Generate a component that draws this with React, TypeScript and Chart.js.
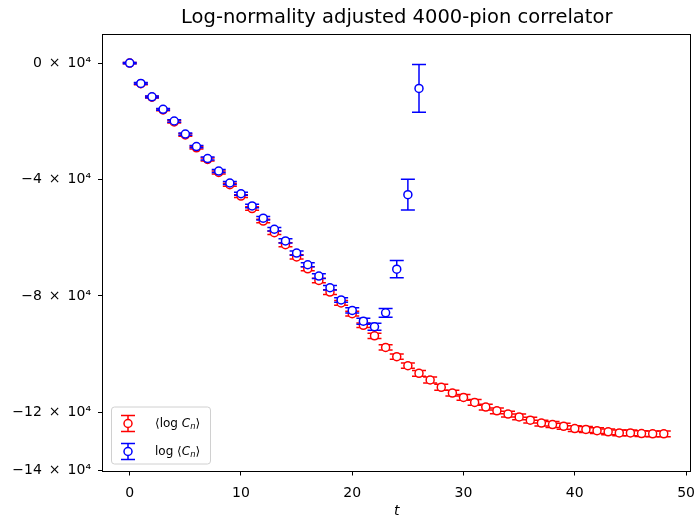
import React, { useEffect, useRef } from 'react';
import { Chart, registerables } from 'chart.js';

Chart.register(...registerables);

// ---------- data ----------
const titleText = 'Log-normality adjusted 4000-pion correlator';
const xLabel = 't';

// time slices
const tRed = Array.from({ length: 49 }, (_, i) => i);
const tBlue = Array.from({ length: 27 }, (_, i) => i);

// <log C_n>  (units of 1e4)
const redMean = [
  0, -0.71, -1.17, -1.61, -2.02, -2.47, -2.91, -3.31, -3.76, -4.18,
  -4.57, -5.0, -5.43, -5.83, -6.24, -6.66, -7.07, -7.47, -7.87, -8.24,
  -8.61, -9.01, -9.37, -9.77, -10.09, -10.4, -10.66, -10.89, -11.14, -11.34,
  -11.49, -11.66, -11.82, -11.95, -12.06, -12.16, -12.27, -12.37, -12.42, -12.48,
  -12.56, -12.59, -12.63, -12.67, -12.71, -12.71, -12.73, -12.74, -12.74,
];
const redErr = [
  0.02, 0.03, 0.03, 0.03, 0.04, 0.04, 0.04, 0.05, 0.05, 0.05,
  0.05, 0.06, 0.06, 0.06, 0.07, 0.07, 0.07, 0.08, 0.08, 0.08,
  0.08, 0.08, 0.09, 0.09, 0.09, 0.09, 0.1, 0.1, 0.1, 0.1,
  0.1, 0.1, 0.1, 0.1, 0.1, 0.1, 0.1, 0.1, 0.1, 0.1,
  0.1, 0.1, 0.1, 0.1, 0.1, 0.1, 0.1, 0.1, 0.1,
];

// log <C_n>  (units of 1e4)
const blueMean = [
  0, -0.7, -1.16, -1.59, -1.99, -2.44, -2.87, -3.28, -3.71, -4.12,
  -4.49, -4.91, -5.33, -5.71, -6.11, -6.53, -6.93, -7.32, -7.72, -8.14,
  -8.5, -8.87, -9.06, -8.58, -7.08, -4.52, -0.87,
];
const blueErr = [
  0.02, 0.03, 0.03, 0.03, 0.04, 0.04, 0.04, 0.05, 0.05, 0.05,
  0.05, 0.06, 0.06, 0.06, 0.07, 0.07, 0.07, 0.08, 0.08, 0.08,
  0.09, 0.1, 0.12, 0.15, 0.3, 0.53, 0.82,
];

const SCALE = 1e4;
const yTickValues = [-140000, -120000, -80000, -40000, 0];
const yTickLabels = ['−14\u2002×\u200210⁴', '−12\u2002×\u200210⁴', '−8\u2002×\u200210⁴', '−4\u2002×\u200210⁴', '0\u2002×\u200210⁴'];
const xTickValues = [0, 10, 20, 30, 40, 50];

const FONT = 'DejaVu Sans';

// ---------- plugins ----------
const errorBarPlugin = {
  id: 'errorBars',
  beforeDatasetDraw(chart: any, args: any) {
    const ds = chart.data.datasets[args.index];
    const errs: number[] = ds.errorValues;
    if (!errs) return;
    const { ctx, chartArea } = chart;
    const xs = chart.scales.x;
    const ys = chart.scales.y;
    ctx.save();
    ctx.beginPath();
    ctx.rect(chartArea.left, chartArea.top, chartArea.right - chartArea.left, chartArea.bottom - chartArea.top);
    ctx.clip();
    ctx.strokeStyle = ds.borderColor;
    ctx.lineWidth = 1.5;
    ds.data.forEach((p: any, i: number) => {
      const e = errs[i];
      const px = xs.getPixelForValue(p.x);
      const yt = ys.getPixelForValue(p.y + e);
      const yb = ys.getPixelForValue(p.y - e);
      ctx.beginPath();
      ctx.moveTo(px, yt);
      ctx.lineTo(px, yb);
      ctx.moveTo(px - 7, yt);
      ctx.lineTo(px + 7, yt);
      ctx.moveTo(px - 7, yb);
      ctx.lineTo(px + 7, yb);
      ctx.stroke();
    });
    ctx.restore();
  },
};

type Part = { text: string; italic?: boolean; sub?: boolean };

function drawRich(ctx: CanvasRenderingContext2D, parts: Part[], x: number, y: number, size: number) {
  let cx = x;
  parts.forEach((p) => {
    const s = p.sub ? size * 0.7 : size;
    ctx.font = `${p.italic ? 'italic ' : ''}${s}px "${FONT}"`;
    ctx.fillText(p.text, cx, p.sub ? y + size * 0.28 : y);
    cx += ctx.measureText(p.text).width;
  });
}

const legendEntries: { color: string; parts: Part[] }[] = [
  {
    color: '#ff0000',
    parts: [
      { text: '⟨log ' },
      { text: 'C', italic: true },
      { text: 'n', italic: true, sub: true },
      { text: '⟩' },
    ],
  },
  {
    color: '#0000ff',
    parts: [
      { text: 'log ⟨' },
      { text: 'C', italic: true },
      { text: 'n', italic: true, sub: true },
      { text: '⟩' },
    ],
  },
];

const decorPlugin = {
  id: 'decor',
  afterDraw(chart: any) {
    const { ctx, chartArea } = chart;
    const { left, right, top, bottom } = chartArea;
    ctx.save();
    // frame
    ctx.strokeStyle = '#000';
    ctx.lineWidth = 1;
    ctx.strokeRect(Math.round(left) - 0.5, Math.round(top) + 0.5, Math.round(right - left), Math.round(bottom - top));
    // title
    ctx.fillStyle = '#000';
    ctx.font = `19.5px "${FONT}"`;
    ctx.textAlign = 'center';
    ctx.textBaseline = 'middle';
    ctx.fillText(titleText, (left + right) / 2, 18);
    // legend
    const bx = left + 8;
    const by = bottom - 64;
    const bw = 99;
    const bh = 57;
    ctx.beginPath();
    (ctx as any).roundRect(bx + 0.5, by + 0.5, bw, bh, 3);
    ctx.fillStyle = 'rgba(255,255,255,0.8)';
    ctx.fill();
    ctx.strokeStyle = '#d0d0d0';
    ctx.lineWidth = 1;
    ctx.stroke();
    legendEntries.forEach((en, i) => {
      const cy = by + 17 + i * 28;
      const cx = bx + 17;
      ctx.strokeStyle = en.color;
      ctx.lineWidth = 1.5;
      ctx.beginPath();
      ctx.moveTo(cx, cy - 8);
      ctx.lineTo(cx, cy + 8);
      ctx.moveTo(cx - 7, cy - 8);
      ctx.lineTo(cx + 7, cy - 8);
      ctx.moveTo(cx - 7, cy + 8);
      ctx.lineTo(cx + 7, cy + 8);
      ctx.stroke();
      ctx.beginPath();
      ctx.arc(cx, cy, 4, 0, Math.PI * 2);
      ctx.fillStyle = '#fff';
      ctx.fill();
      ctx.stroke();
      ctx.fillStyle = '#000';
      ctx.textAlign = 'left';
      ctx.textBaseline = 'middle';
      drawRich(ctx, en.parts, bx + 44, cy, 12);
    });
    ctx.restore();
  },
};

export default function App() {
  const ref = useRef<HTMLCanvasElement | null>(null);
  useEffect(() => {
    if (!ref.current) return;
    const chart = new Chart(ref.current, {
      type: 'scatter',
      data: {
        datasets: [
          {
            label: 'log <C_n>',
            data: tBlue.map((t, i) => ({ x: t, y: blueMean[i] * SCALE })),
            errorValues: blueErr.map((e) => e * SCALE),
            borderColor: '#0000ff',
            backgroundColor: '#ffffff',
            pointRadius: 4,
            pointBorderWidth: 1.5,
            pointHoverRadius: 4,
            showLine: false,
          } as any,
          {
            label: '<log C_n>',
            data: tRed.map((t, i) => ({ x: t, y: redMean[i] * SCALE })),
            errorValues: redErr.map((e) => e * SCALE),
            borderColor: '#ff0000',
            backgroundColor: '#ffffff',
            pointRadius: 4,
            pointBorderWidth: 1.5,
            pointHoverRadius: 4,
            showLine: false,
          } as any,
        ],
      },
      options: {
        responsive: false,
        animation: false,
        events: [],
        layout: { padding: { top: 34, right: 5.3, left: 0, bottom: 0 } },
        plugins: {
          legend: { display: false },
          title: { display: false },
          tooltip: { enabled: false },
        },
        scales: {
          x: {
            type: 'linear',
            min: -2.4,
            max: 50.4,
            afterBuildTicks: (s: any) => {
              s.ticks = xTickValues.map((v) => ({ value: v }));
            },
            afterFit: (s: any) => {
              s.height = 49.5;
              s.paddingLeft = 0;
              s.paddingRight = 0;
            },
            border: { display: false },
            grid: { drawOnChartArea: false, drawTicks: true, tickLength: 5, color: '#000', lineWidth: 1 },
            ticks: {
              color: '#000',
              font: { family: FONT, size: 14 },
              padding: 9,
              maxRotation: 0,
              callback: (v: any) => String(v),
            },
            title: {
              display: true,
              text: xLabel,
              color: '#000',
              font: { family: FONT, size: 14, style: 'italic' },
              padding: { top: 0, bottom: 0 },
            },
          },
          y: {
            type: 'linear',
            min: -140000,
            max: 10000,
            afterBuildTicks: (s: any) => {
              s.ticks = yTickValues.map((v) => ({ value: v }));
            },
            afterFit: (s: any) => {
              s.width = 103;
              s.paddingTop = 0;
              s.paddingBottom = 0;
            },
            border: { display: false },
            grid: { drawOnChartArea: false, drawTicks: true, tickLength: 5, color: '#000', lineWidth: 1 },
            ticks: {
              color: '#000',
              font: { family: FONT, size: 14 },
              padding: 7,
              callback: (v: any) => {
                const idx = yTickValues.indexOf(Number(v));
                return idx >= 0 ? yTickLabels[idx] : '';
              },
            },
          },
        },
      } as any,
      plugins: [errorBarPlugin, decorPlugin],
    });
    return () => chart.destroy();
  }, []);

  return (
    <div style={{ position: 'absolute', left: 0, top: 0, width: 696, height: 520, background: '#fff' }}>
      <canvas ref={ref} width={696} height={520} style={{ display: 'block' }} />
    </div>
  );
}
